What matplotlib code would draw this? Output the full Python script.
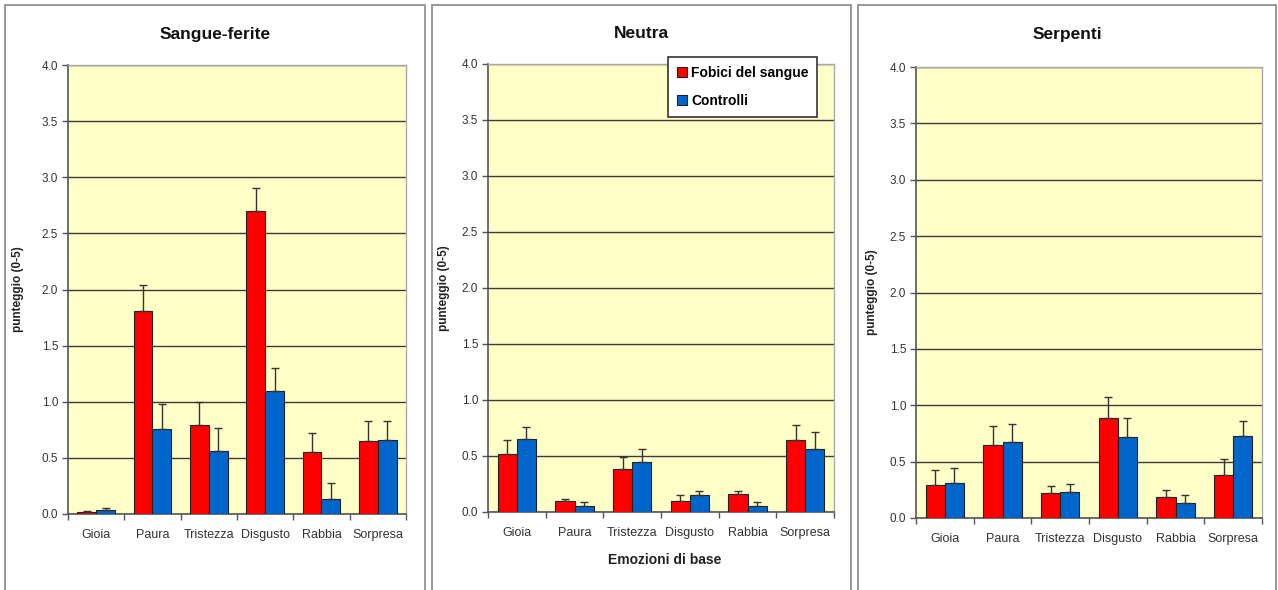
import numpy as np
import matplotlib
matplotlib.use('Agg')
import matplotlib.pyplot as plt
from matplotlib.patches import Rectangle, Patch

plt.rcParams['font.family'] = ['Liberation Sans', 'DejaVu Sans']

emozioni = ['Gioia', 'Paura', 'Tristezza', 'Disgusto', 'Rabbia', 'Sorpresa']
titoli = ['Sangue-ferite', 'Neutra', 'Serpenti']

# medie (fobici, controlli) e estremi superiori delle barre d'errore
fobici_sangue = [0.02, 1.81, 0.79, 2.70, 0.55, 0.65]
fobici_sangue_top = [0.03, 2.04, 1.00, 2.90, 0.72, 0.83]
controlli_sangue = [0.04, 0.76, 0.56, 1.10, 0.13, 0.66]
controlli_sangue_top = [0.05, 0.98, 0.77, 1.30, 0.28, 0.83]

fobici_neutra = [0.52, 0.10, 0.38, 0.10, 0.16, 0.64]
fobici_neutra_top = [0.64, 0.12, 0.49, 0.15, 0.19, 0.78]
controlli_neutra = [0.65, 0.05, 0.45, 0.15, 0.05, 0.56]
controlli_neutra_top = [0.76, 0.09, 0.56, 0.19, 0.09, 0.71]

fobici_serpenti = [0.29, 0.65, 0.22, 0.89, 0.19, 0.38]
fobici_serpenti_top = [0.43, 0.82, 0.28, 1.07, 0.25, 0.52]
controlli_serpenti = [0.31, 0.67, 0.23, 0.72, 0.13, 0.73]
controlli_serpenti_top = [0.44, 0.83, 0.30, 0.89, 0.20, 0.86]

dati = [
    (fobici_sangue, fobici_sangue_top, controlli_sangue, controlli_sangue_top),
    (fobici_neutra, fobici_neutra_top, controlli_neutra, controlli_neutra_top),
    (fobici_serpenti, fobici_serpenti_top, controlli_serpenti, controlli_serpenti_top),
]

W, H = 1278, 590
fig = plt.figure(figsize=(W / 100, H / 100), dpi=100)
fig.patch.set_facecolor('white')

# cornici dei pannelli (pixel)
pannelli = [(5, 425), (432, 851), (858, 1276)]
for x0, x1 in pannelli:
    fig.patches.append(Rectangle((x0 / W, -0.02), (x1 - x0) / W, (H - 5) / H + 0.02,
                                 transform=fig.transFigure, fill=False,
                                 edgecolor='#888888', lw=1.2))

# assi: left, right, top(4.0), bottom(0.0) in pixel
assi = [(68, 406, 65, 514), (488, 834, 64, 512), (916, 1262, 67, 518)]
ylab_x = [18, 444, 872]
rosso = '#ff0000'
blu = '#0066cc'
x = np.arange(len(emozioni))
w = 1 / 3

for i, (l, r, t, b) in enumerate(assi):
    ax = fig.add_axes([l / W, (H - b) / H, (r - l) / W, (b - t) / H])
    ax.set_facecolor('#ffffc8')
    f, ft, c, ct = dati[i]
    f = np.array(f); c = np.array(c)
    ef = np.array(ft) - f
    ec = np.array(ct) - c
    ax.bar(x - w / 2, f, w, color=rosso, edgecolor='#222222', lw=0.8, zorder=3,
           label='Fobici del sangue')
    ax.bar(x + w / 2, c, w, color=blu, edgecolor='#222222', lw=0.8, zorder=3,
           label='Controlli')
    ax.errorbar(x - w / 2, f, yerr=[np.zeros_like(ef), ef], fmt='none',
                ecolor='#333333', elinewidth=1, capsize=3, capthick=1, zorder=4)
    ax.errorbar(x + w / 2, c, yerr=[np.zeros_like(ec), ec], fmt='none',
                ecolor='#333333', elinewidth=1, capsize=3, capthick=1, zorder=4)

    ax.set_xlim(-0.5, len(emozioni) - 0.5)
    ax.set_ylim(0, 4)
    ax.set_yticks(np.arange(0, 4.01, 0.5))
    ax.set_yticklabels(['%.1f' % v for v in np.arange(0, 4.01, 0.5)])
    ax.yaxis.grid(True, color='#3a3a3a', lw=1, zorder=1)
    ax.set_axisbelow(True)
    ax.set_xticks(x)
    ax.set_xticklabels(emozioni)
    ax.set_xticks(np.arange(-0.5, len(emozioni), 1), minor=True)
    ax.tick_params(axis='x', which='major', length=0, pad=11, labelsize=9, colors='#333333')
    ax.tick_params(axis='x', which='minor', length=4, width=1, color='#555555', direction='out')
    ax.tick_params(axis='y', length=4, width=1, color='#555555', labelsize=8.5, labelcolor='#333333', pad=3)
    for s in ['left', 'bottom']:
        ax.spines[s].set_color('#555555')
        ax.spines[s].set_linewidth(1.2)
    for s in ['top', 'right']:
        ax.spines[s].set_color('#aaaaaa')
        ax.spines[s].set_linewidth(1)

    fig.text(ylab_x[i] / W, (H - (t + b) / 2) / H, 'punteggio (0-5)', rotation=90,
             ha='center', va='center', fontsize=8.5, fontweight='bold', color='#222222')
    x0, x1 = pannelli[i]
    fig.text((x0 + x1) / 2 / W, (H - 34) / H, titoli[i], ha='center', va='center',
             fontsize=12.5, fontweight='bold', color='#111111')

    if i == 1:
        fig.text(665 / W, (H - 560) / H, 'Emozioni di base', ha='center', va='center',
                 fontsize=10, fontweight='bold', color='#222222')
        handles = [Patch(facecolor=rosso, edgecolor='#222222', lw=0.8),
                   Patch(facecolor=blu, edgecolor='#222222', lw=0.8)]
        leg = ax.legend(handles, ['Fobici del sangue', 'Controlli'],
                        loc='upper left', bbox_to_anchor=(668 / W, (H - 57) / H),
                        bbox_transform=fig.transFigure, borderaxespad=0,
                        frameon=True, fancybox=False,
                        prop={'weight': 'bold', 'size': 10}, handlelength=0.7,
                        handleheight=0.7, handletextpad=0.3, labelspacing=1.0,
                        borderpad=0.65, edgecolor='#333333', framealpha=1)
        leg.get_frame().set_linewidth(1.2)
        leg.get_frame().set_facecolor('white')
        leg.set_zorder(10)

fig.savefig('out.png', dpi=100)
